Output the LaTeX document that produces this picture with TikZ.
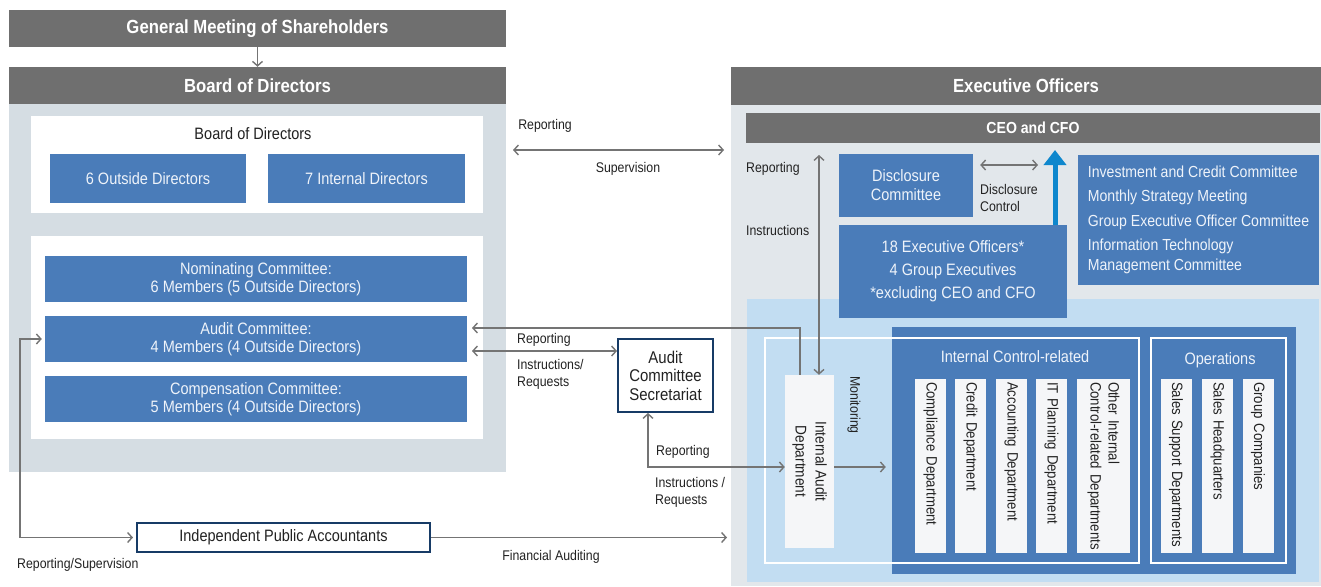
\documentclass[tikz,border=0pt]{standalone}
\usepackage{fontspec}
\setmainfont{Liberation Sans}[FakeStretch=0.88]
\usetikzlibrary{arrows.meta}
\definecolor{hdrgray}{HTML}{6F6F6F}
\definecolor{panelL}{HTML}{D5DDE3}
\definecolor{panelR}{HTML}{E2E7EB}
\definecolor{boxblue}{HTML}{4A7CB9}
\definecolor{lightblue}{HTML}{C2DDF2}
\definecolor{colfill}{HTML}{F5F6F8}
\definecolor{navy}{HTML}{173B66}
\definecolor{arrgray}{HTML}{747474}
\definecolor{arrblue}{HTML}{0E87CD}
\definecolor{txt}{HTML}{222222}
\definecolor{boxtxt}{HTML}{EEF3FA}
\newcommand\fsz[2]{\fontsize{#1}{#2}\selectfont}
\newcommand\nohyph{\hyphenpenalty=10000\relax\exhyphenpenalty=10000\relax}
\begin{document}
\begin{tikzpicture}[x=1pt,y=-1pt,
  hdr/.style={fill=hdrgray, text=white, inner sep=0, font=\fsz{19}{22}\bfseries},
  panel/.style={inner sep=0},
  whitebox/.style={fill=white, inner sep=0},
  bluebox/.style={fill=boxblue, text=boxtxt, inner sep=0, align=center, font=\fsz{16.5}{18}},
  lbl/.style={text=txt, inner sep=0, font=\fsz{14}{17.5}},
  navybox/.style={draw=navy, line width=2pt, fill=white, text=txt, inner sep=0, align=center},
  col/.style={rotate=-90, fill=colfill, text=txt, minimum width=174pt, text width=168pt, inner xsep=3pt, inner ysep=0, align=left, font=\fsz{15}{18}},
  outline/.style={draw=white, line width=1.2pt, inner sep=0},
  arr/.style={draw=arrgray, line width=1.4pt, -{Straight Barb[length=4.5pt,width=10pt]}},
  darr/.style={draw=arrgray, line width=1.4pt, {Straight Barb[length=4.5pt,width=10pt]}-{Straight Barb[length=4.5pt,width=10pt]}},
  bigarr/.style={draw=arrblue, line width=5pt, -{Triangle[length=15pt,width=22pt]}}
]
\fill[white] (0,0) rectangle (1321,586);
\useasboundingbox (0,0) rectangle (1321,586);

% ---------------- left side ----------------
\node[hdr, minimum width=497pt, minimum height=37pt] (gm) at (257.5,28.5) {General Meeting of Shareholders};
\node[panel, fill=panelL, minimum width=497pt, minimum height=368pt] (lpanel) at (257.5,288) {};
\node[hdr, minimum width=497pt, minimum height=37pt] (bodh) at (257.5,85.5) {Board of Directors};

\node[whitebox, minimum width=452pt, minimum height=97pt] (wb1) at (257,164.5) {};
\node[lbl, font=\fsz{16.5}{18}] (bodt) at (253,134) {Board of Directors};
\node[bluebox, minimum width=196pt, minimum height=49pt] (od) at (148,178.5) {6 Outside Directors};
\node[bluebox, minimum width=197pt, minimum height=49pt] (idr) at (366.5,178.5) {7 Internal Directors};

\node[whitebox, minimum width=452pt, minimum height=203pt] (wb2) at (257,337.5) {};
\node[bluebox, minimum width=422pt, minimum height=46pt] (nom) at (256,279) {Nominating Committee:\\6 Members (5 Outside Directors)};
\node[bluebox, minimum width=422pt, minimum height=46pt] (aud) at (256,339) {Audit Committee:\\4 Members (4 Outside Directors)};
\node[bluebox, minimum width=422pt, minimum height=46pt] (comp) at (256,399) {Compensation Committee:\\5 Members (4 Outside Directors)};

\node[navybox, minimum width=293pt, minimum height=29pt, font=\fsz{16.5}{18}] (ipa) at (283.5,537.5) {Independent Public Accountants};
\node[navybox, minimum width=95pt, minimum height=73pt, font=\fsz{17}{18.5}] (acs) at (665.5,375.5) {Audit\\Committee\\Secretariat};

% ---------------- right side ----------------
\node[panel, fill=panelR, minimum width=590pt, minimum height=481pt] (rpanel) at (1026,345.5) {};
\node[hdr, minimum width=590pt, minimum height=38pt] (exh) at (1026,86) {Executive Officers};
\node[hdr, minimum width=574pt, minimum height=30pt, font=\fsz{16}{18}\bfseries] (ceo) at (1033,128) {CEO and CFO};

\node[panel, fill=lightblue, minimum width=572pt, minimum height=283pt] (lbpanel) at (1033,440.5) {};
\node[bluebox, minimum width=134pt, minimum height=63pt, font=\fsz{16.5}{19}] (dc) at (906,185.5) {Disclosure\\Committee};
\node[bluebox, minimum width=228pt, minimum height=93pt, font=\fsz{16.5}{23}] (eo) at (953,271.5) {18 Executive Officers*\\4 Group Executives\\*excluding CEO and CFO};
\node[bluebox, minimum width=241pt, minimum height=130pt, align=left, font=\fsz{16}{24.5}] (com) at (1198.5,219.5) {Investment and Credit Committee\\Monthly Strategy Meeting\\Group Executive Officer Committee\\Information Technology\\[-5pt]Management Committee};

\node[panel, fill=boxblue, minimum width=404pt, minimum height=247pt] (dbpanel) at (1094,450.5) {};
\node[outline, minimum width=374pt, minimum height=225pt] (ol1) at (952,450.5) {};
\node[outline, minimum width=135pt, minimum height=225pt] (ol2) at (1218.5,450.5) {};
\node[text=boxtxt, inner sep=0, font=\fsz{16.5}{18}] (ictitle) at (1015,357) {Internal Control-related};
\node[text=boxtxt, inner sep=0, font=\fsz{16.5}{18}] (optitle) at (1220,360) {Operations};

% rotated node: west = top, east = bottom, north = right, south = left
\node[rotate=-90, fill=colfill, text=txt, inner sep=0, minimum width=173pt, minimum height=49pt, align=center, font=\fsz{15.5}{20}] (iad) at (809.5,461.5) {Internal Audit\\Department};
\node[lbl, rotate=-90, anchor=west] (mon) at (854,376) {Monitoring};

\node[col, minimum height=31pt] (c1) at (930.5,466) {\nohyph Compliance Department};
\node[col, minimum height=31pt] (c2) at (970.5,466) {\nohyph Credit Department};
\node[col, minimum height=31pt] (c3) at (1011.5,466) {\nohyph Accounting Department};
\node[col, minimum height=31pt] (c4) at (1051.5,466) {\nohyph IT Planning Department};
\node[col, minimum height=53pt] (c5) at (1103.5,466) {\nohyph Other Internal\\Control-related Departments};
\node[col, minimum height=31pt] (c6) at (1176,466) {\nohyph Sales Support Departments};
\node[col, minimum height=31pt] (c7) at (1217.5,466) {\nohyph Sales Headquarters};
\node[col, minimum height=31pt] (c8) at (1258,466) {\nohyph Group Companies};

% ---------------- connectors ----------------
\draw[arr] (gm.south) -- (bodh.north);

\coordinate (rsL) at (513,150);
\coordinate (rsR) at (724,150);
\draw[darr] (rsL) -- (rsR);
\node[lbl] (lrep1) at (545,126) {Reporting};
\node[lbl] (lsup) at (628,169) {Supervision};

\coordinate (aR) at (472,328);
\draw[arr] ([xshift=-9.5pt]iad.west) |- (aR);
\coordinate (aI) at (472,351);
\draw[darr] (aI) -- (acs.west |- aI);
\node[lbl, anchor=west] (lrep2) at (517,340) {Reporting};
\node[lbl, anchor=north west, align=left] (lins2) at (517,359) {Instructions/\\Requests};

\coordinate (ilev) at (700,467);
\draw[darr] ([xshift=-17.5pt]acs.south) |- (iad.south |- ilev);
\node[lbl, anchor=west] (lrep3) at (656,452) {Reporting};
\node[lbl, anchor=north west, align=left] (lins3) at (655,477) {Instructions /\\Requests};

\draw[arr] (iad.north |- ilev) -- ([xshift=-6pt]dbpanel.west |- ilev);

\coordinate (vt) at (819,155);
\draw[darr] (vt) -- (iad.west -| vt);
\node[lbl, anchor=west] (lrep4) at (746,169) {Reporting};
\node[lbl, anchor=west] (lins4) at (746,230) {Instructions};

\coordinate (dcl) at (1038,165);
\draw[darr] ([xshift=7pt]dc.east |- dcl) -- (dcl);
\node[lbl, anchor=north west, align=left] (ldc) at (980,184) {Disclosure\\Control};

\coordinate (bt) at (1055,150);
\draw[bigarr] (eo.north -| bt) -- (bt);

\draw[darr] ([xshift=-3pt]aud.west) -- ++(-22,0) |- ([xshift=-3pt]ipa.west);
\node[lbl, anchor=west] (lrs) at (17,565) {Reporting/Supervision};

\coordinate (fa) at (727,537.5);
\draw[arr] (ipa.east) -- (fa);
\node[lbl] (lfa) at (551,557) {Financial Auditing};
\end{tikzpicture}
\end{document}
